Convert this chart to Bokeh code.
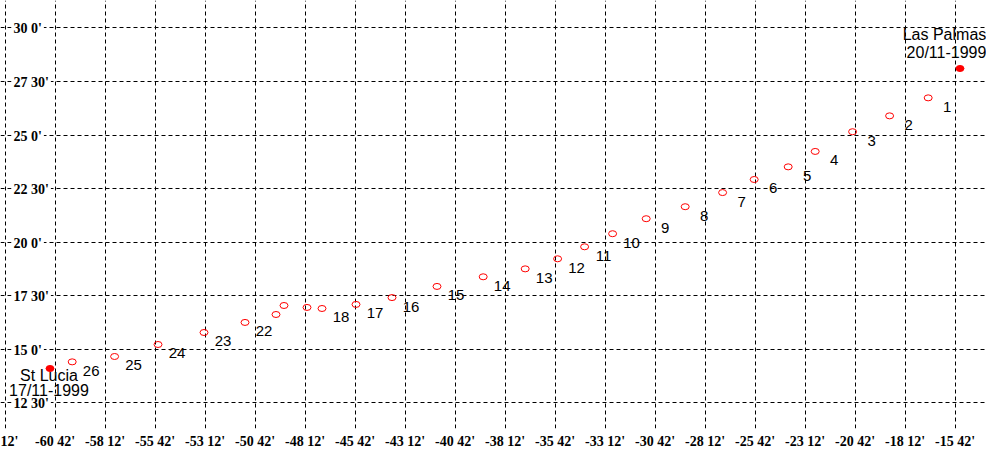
from bokeh.plotting import figure
from bokeh.models import Range1d, FixedTicker, Grid
from bokeh.core.properties import value
from bokeh.embed import file_html
from bokeh.resources import INLINE

# ---- data ----
lon = [-17.04, -18.97, -20.82, -22.69, -24.04, -25.74, -27.32, -29.19, -31.14, -32.82,
       -34.22, -35.57, -37.19, -39.29, -41.60, -43.85, -45.65, -47.35, -48.10, -49.25,
       -49.65, -51.20, -53.25, -55.55, -57.72, -59.84]
lat = [26.74, 25.90, 25.16, 24.24, 23.52, 22.93, 22.32, 21.66, 21.10, 20.40,
       19.79, 19.23, 18.76, 18.39, 17.94, 17.42, 17.10, 16.91, 16.96, 17.05,
       16.63, 16.26, 15.79, 15.23, 14.67, 14.42]
point_labels = ["1", "2", "3", "4", "5", "6", "7", "8", "9", "10",
                "11", "12", "13", "14", "15", "16", "17", "18", "", "",
                "", "22", "23", "24", "25", "26"]

site_names = ["Las Palmas", "St Lucia"]
site_dates = ["20/11-1999", "17/11-1999"]
site_lon = [-15.45, -60.95]
site_lat = [28.11, 14.11]

x_ticks = [-63.2, -60.7, -58.2, -55.7, -53.2, -50.7, -48.2, -45.7, -43.2, -40.7, -38.2,
           -35.7, -33.2, -30.7, -28.2, -25.7, -23.2, -20.7, -18.2, -15.7, -13.2]
# the first label is cut by the left edge in the reference: only "12'" shows
x_tick_labels = ["12'", "-60 42'", "-58 12'", "-55 42'", "-53 12'", "-50 42'", "-48 12'",
                 "-45 42'", "-43 12'", "-40 42'", "-38 12'", "-35 42'", "-33 12'", "-30 42'",
                 "-28 12'", "-25 42'", "-23 12'", "-20 42'", "-18 12'", "-15 42'", "-13 12'"]
y_ticks = [12.5, 15.0, 17.5, 20.0, 22.5, 25.0, 27.5, 30.0]
y_tick_labels = ["12 30'", "15 0'", "17 30'", "20 0'", "22 30'", "25 0'", "27 30'", "30 0'"]

# ---- figure ----
X0, X1 = -63.425, -14.125
Y0, Y1 = 11.310, 31.283

p = figure(frame_width=986, frame_height=428, output_backend="svg", toolbar_location=None,
           x_range=Range1d(X0, X1), y_range=Range1d(Y0, Y1),
           x_axis_location="below", y_axis_location=None, tools="")
p.min_border = 0
p.min_border_left = 0
p.min_border_right = 0
p.min_border_top = 0
p.min_border_bottom = 0
p.outline_line_color = None
p.background_fill_color = "white"
p.border_fill_color = "white"

for g in p.grid:
    g.visible = False

dash = "4 3"
p.add_layout(Grid(dimension=0, ticker=FixedTicker(ticks=x_ticks), grid_line_color="black",
                  grid_line_dash=dash, grid_line_width=1))
p.add_layout(Grid(dimension=1, ticker=FixedTicker(ticks=y_ticks), grid_line_color="black",
                  grid_line_dash=dash, grid_line_width=1))

AX_FONT = "Liberation Sans Narrow"
ax = p.xaxis[0]
ax.ticker = FixedTicker(ticks=x_ticks)
ax.major_label_overrides = {t: l for t, l in zip(x_ticks, x_tick_labels)}
ax.axis_line_color = None
ax.major_tick_line_color = None
ax.minor_tick_line_color = None
ax.major_tick_out = 0
ax.major_tick_in = 0
ax.major_label_standoff = 5
ax.major_label_text_font = AX_FONT
ax.major_label_text_font_style = "bold"
ax.major_label_text_font_size = "14px"
ax.major_label_text_color = "black"

# y tick labels drawn inside the frame with white boxes
p.text(x=[X0] * len(y_ticks), y=y_ticks, text=y_tick_labels, x_offset=11, y_offset=1,
       text_align="left", text_baseline="middle", text_font=value(AX_FONT),
       text_font_style="bold", text_font_size="14px", text_color="black",
       background_fill_color="white", padding=2)

# track points
p.ellipse(x=lon, y=lat, width=8, height=6, width_units="screen", height_units="screen",
          fill_color=None, line_color="red", line_width=1)
p.text(x=lon, y=lat, text=point_labels, x_offset=19, y_offset=9, text_align="center",
       text_baseline="middle", text_font=value("Liberation Sans"), text_font_size="15px",
       text_color="black")

# start / end sites
p.ellipse(x=site_lon, y=site_lat, width=8, height=6, width_units="screen", height_units="screen",
          fill_color="red", line_color="red", line_width=1)
LBL_FONT = value("Liberation Sans")
p.text(x=[site_lon[0]], y=[site_lat[0]], text=[site_names[0]], x_offset=-15.5, y_offset=-34,
       text_align="center", text_baseline="middle", text_font=LBL_FONT, text_font_size="16px",
       text_color="black")
p.text(x=[site_lon[0]], y=[site_lat[0]], text=[site_dates[0]], x_offset=-13.5, y_offset=-15.5,
       text_align="center", text_baseline="middle", text_font=LBL_FONT, text_font_size="16px",
       text_color="black")
p.text(x=[site_lon[1]], y=[site_lat[1]], text=[site_names[1]], x_offset=-1, y_offset=7.5,
       text_align="center", text_baseline="middle", text_font=LBL_FONT, text_font_size="16px",
       text_color="black")
p.text(x=[site_lon[1]], y=[site_lat[1]], text=[site_dates[1]], x_offset=-1, y_offset=22.5,
       text_align="center", text_baseline="middle", text_font=LBL_FONT, text_font_size="16px",
       text_color="black")

open("out.html", "w").write(file_html(p, INLINE))
